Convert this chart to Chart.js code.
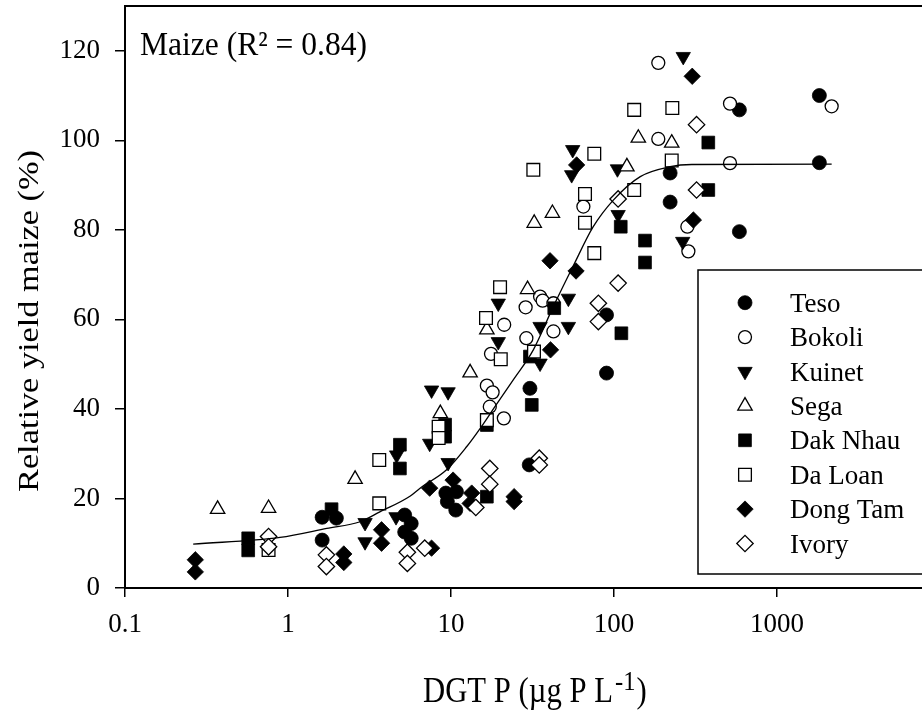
<!DOCTYPE html>
<html><head><meta charset="utf-8">
<script src="https://cdn.jsdelivr.net/npm/chart.js@4/dist/chart.umd.min.js"></script>
<style>html,body{margin:0;padding:0;background:#fff;overflow:hidden}#wrap{position:relative;width:922px;height:710px}</style>
</head><body><div id="wrap"><canvas id="c"></canvas></div>
<script>
// ---------- data ----------
const categories = ['Teso','Bokoli','Kuinet','Sega','Dak Nhau','Da Loan','Dong Tam','Ivory'];
const teso    = [[1.62,15.8],[1.98,15.6],[1.62,10.7],[5.2,16.3],[5.7,14.4],[5.2,12.5],[5.7,11.1],[9.3,21.2],[10.8,21.5],[9.5,19.3],[10.7,17.4],[30.2,27.5],[30.5,44.6],[90,61],[90,48],[221,92.7],[221,86.2],[588,106.8],[588,79.6],[1820,110],[1820,95]];
const bokoli  = [[16.6,45.2],[18,43.7],[17.3,40.5],[21.1,37.9],[17.6,52.3],[21.2,58.8],[28.7,62.7],[29,55.8],[35.2,65.1],[36.5,64.2],[42.5,63.6],[42.5,57.3],[64.9,85.2],[187,117.3],[187,100.3],[282,80.7],[286,75.2],[515,108.2],[515,94.9],[2165,107.6]];
const kuinet  = [[2.97,14.6],[2.97,10.3],[4.6,15.9],[4.64,29.7],[7.4,32.3],[7.6,44.2],[9.6,43.8],[9.6,28.0],[19.5,63.6],[19.5,55],[35.2,58.4],[35.2,50.2],[52.5,64.7],[52.5,58.4],[55.8,97.9],[55,92.3],[105,93.6],[106,83.4],[264,77.4],[266,118.7]];
const sega    = [[0.37,17.6],[0.76,17.8],[2.58,24.3],[8.6,39],[13.1,48.1],[16.6,57.7],[29.5,66.7],[32.4,81.5],[41.9,83.7],[120,94.1],[141,100.5],[226,99.4]];
const dakNhau = [[0.57,11.1],[0.57,8.4],[1.85,17.6],[4.86,32],[4.86,26.7],[9.2,36.5],[9.2,33.8],[16.6,36.4],[16.6,20.4],[31.3,40.9],[30.5,51.7],[43,62.5],[110,80.7],[111,56.9],[155,77.6],[155,72.7],[379,99.5],[379,88.9]];
const daLoan  = [[0.76,8.5],[3.63,28.6],[3.63,18.9],[8.4,36],[8.4,33.5],[16.6,37.5],[16.4,60.3],[20,67.2],[20.2,51.1],[32.3,52.8],[32,93.4],[66.4,81.6],[66.4,88],[75.7,74.8],[75.7,97],[133,106.8],[133,88.9],[226,95.5],[228,107.2]];
const dongTam = [[0.27,6.3],[0.27,3.6],[2.2,7.6],[2.2,5.7],[3.75,13],[3.75,10],[7.4,22.3],[7.6,8.9],[10.3,24.1],[13.4,21.2],[13.1,18.9],[24.4,20.4],[24.4,19.3],[40.5,73.1],[40.8,53.2],[58.5,70.8],[59,94.5],[302,114.3],[307,82.2]];
const ivory   = [[0.76,11.5],[0.76,9.2],[1.72,7.4],[1.72,4.8],[5.4,8.0],[5.4,5.5],[6.9,8.9],[14.2,18.0],[17.3,26.7],[17.3,23.2],[34.8,29.0],[34.8,27.5],[80.2,63.6],[80.2,59.5],[106,68.1],[106,86.9],[321,103.5],[321,88.9]];
const fitX = [0.262,0.893,1.73,2.77,3.66,5.6,6.46,9.4,12.5,15.0,18.6,24.1,32,42.5,56,74.6,99.4,145,221,300,2165];
const fitY = [9.8,11.3,13.3,14.8,17.0,20.5,22.3,26.4,31.6,35.5,40.5,46.5,53.2,62.9,71.8,80.7,86.7,91.9,94.1,94.6,94.7];
const xTicks = [0.1,1,10,100,1000];
const yTicks = [0,20,40,60,80,100,120];
const panelLabel = 'Maize (R\u00B2 = 0.84)';
const yTitle = 'Relative yield maize (%)';
const xTitleMain = 'DGT P (\u00B5g P L';
const xTitleSup = '-1';
const xTitleEnd = ')';

// ---------- styles ----------
const FONT = "'Liberation Serif','Times New Roman',serif";
const series = [teso,bokoli,kuinet,sega,dakNhau,daLoan,dongTam,ivory];
const marks = [
  {style:'circle',  filled:true,  r:7,   rot:0},
  {style:'circle',  filled:false, r:6.5, rot:0},
  {style:'triangle',filled:true,  r:8.3, rot:180},
  {style:'triangle',filled:false, r:8.3, rot:0},
  {style:'rect',    filled:true,  r:9,   rot:0},
  {style:'rect',    filled:false, r:9,   rot:0},
  {style:'rectRot', filled:true,  r:8.2, rot:0},
  {style:'rectRot', filled:false, r:8.2, rot:0}
];

const datasets = series.map((pts,i)=>({
  type:'scatter',
  label: categories[i],
  data: pts.map(p=>({x:p[0], y:p[1]})),
  pointStyle: marks[i].style,
  pointRadius: marks[i].r,
  pointRotation: marks[i].rot,
  backgroundColor: marks[i].filled ? '#000' : '#fff',
  borderColor: '#000',
  borderWidth: marks[i].filled ? 0.8 : 1.3,
  order: 9 - i
}));
datasets.push({
  type:'line', label:'fit',
  data: fitX.map((x,i)=>({x:x, y:fitY[i]})),
  borderColor:'#000', borderWidth:1.3, pointRadius:0, fill:false,
  cubicInterpolationMode:'monotone', order:0
});

function scaledText(ctx, text, size, targetW){
  ctx.font = size + 'px ' + FONT;
  const w = ctx.measureText(text).width;
  return targetW ? targetW / w : 1;
}
function zeroPad(sc){ sc.paddingTop = 0; sc.paddingBottom = 0; sc.paddingLeft = 0; sc.paddingRight = 0; }

const decor = {
  id:'decor',
  afterDraw(chart){
    const ctx = chart.ctx, a = chart.chartArea;
    ctx.save();
    // top frame line
    ctx.strokeStyle = '#000'; ctx.lineWidth = 2;
    ctx.beginPath(); ctx.moveTo(a.left - 1, a.top); ctx.lineTo(a.right, a.top); ctx.stroke();

    ctx.fillStyle = '#000'; ctx.textAlign = 'left'; ctx.textBaseline = 'alphabetic';
    // panel label
    let s = scaledText(ctx, panelLabel, 33, 227);
    ctx.save(); ctx.translate(140, 55); ctx.scale(s,1); ctx.fillText(panelLabel, 0, 0); ctx.restore();

    // y title
    s = scaledText(ctx, yTitle, 30, 342);
    ctx.font = '30px ' + FONT;
    ctx.save(); ctx.translate(38, 321); ctx.rotate(-Math.PI/2); ctx.scale(s,1);
    ctx.textAlign = 'center'; ctx.fillText(yTitle, 0, 0); ctx.restore();

    // x title with superscript
    s = scaledText(ctx, xTitleMain, 35, 190);
    ctx.font = '35px ' + FONT;
    const mw = ctx.measureText(xTitleMain).width * s;
    ctx.save(); ctx.translate(423, 702); ctx.scale(s,1); ctx.fillText(xTitleMain, 0, 0); ctx.restore();
    ctx.font = '28px ' + FONT;
    const sw = ctx.measureText(xTitleSup).width * s;
    ctx.save(); ctx.translate(423 + mw + 2, 690); ctx.scale(s,1); ctx.fillText(xTitleSup, 0, 0); ctx.restore();
    ctx.font = '35px ' + FONT;
    ctx.save(); ctx.translate(423 + mw + sw + 3, 702); ctx.scale(s,1); ctx.fillText(xTitleEnd, 0, 0); ctx.restore();

    // legend box
    const lx = 698, ly = 270, lb = 574;
    ctx.fillStyle = '#fff';
    ctx.fillRect(lx, ly, 260, lb - ly);
    ctx.strokeStyle = '#000'; ctx.lineWidth = 1.5;
    ctx.strokeRect(lx, ly, 260, lb - ly);
    ctx.font = '27px ' + FONT;
    for (let i = 0; i < categories.length; i++){
      const yy = 302.7 + i * 34.4;
      const m = marks[i];
      ctx.fillStyle = m.filled ? '#000' : '#fff';
      ctx.strokeStyle = '#000';
      ctx.lineWidth = m.filled ? 0.8 : 1.3;
      Chart.helpers.drawPoint(ctx, {pointStyle:m.style, radius:m.r, rotation:m.rot, borderWidth:ctx.lineWidth}, 745, yy);
      ctx.fillStyle = '#000';
      ctx.fillText(categories[i], 790, yy + 9);
    }
    ctx.restore();
  }
};

new Chart(document.getElementById('c'), {
  type:'scatter',
  data:{ datasets },
  options:{
    responsive:true, maintainAspectRatio:false, animation:false, devicePixelRatio:1,
    events:[],
    layout:{ autoPadding:false, padding:{ top:6, right:0, left:0, bottom:0 } },
    plugins:{ legend:{display:false}, tooltip:{enabled:false} },
    scales:{
      x:{
        type:'logarithmic', position:'bottom', min:0.1, max:7757,
        afterBuildTicks:(sc)=>{ sc.ticks = xTicks.map(v=>({value:v})); },
        afterFit:(sc)=>{ sc.height = 122; zeroPad(sc); },
        ticks:{ font:{family:FONT, size:27}, color:'#000', padding:12, maxRotation:0, autoSkip:false,
                callback:(v)=>String(v) },
        grid:{ display:true, drawOnChartArea:false, drawTicks:true, tickLength:9, color:'#000', lineWidth:1.5 },
        border:{ display:true, color:'#000', width:2 },
        title:{ display:false }
      },
      y:{
        type:'linear', min:0, max:130,
        afterBuildTicks:(sc)=>{ sc.ticks = yTicks.map(v=>({value:v})); },
        afterFit:(sc)=>{ sc.width = 125; zeroPad(sc); },
        ticks:{ font:{family:FONT, size:27}, color:'#000', padding:15 },
        grid:{ display:true, drawOnChartArea:false, drawTicks:true, tickLength:10, color:'#000', lineWidth:1.5 },
        border:{ display:true, color:'#000', width:2 },
        title:{ display:false }
      }
    }
  },
  plugins:[decor]
});
</script>
</body></html>
